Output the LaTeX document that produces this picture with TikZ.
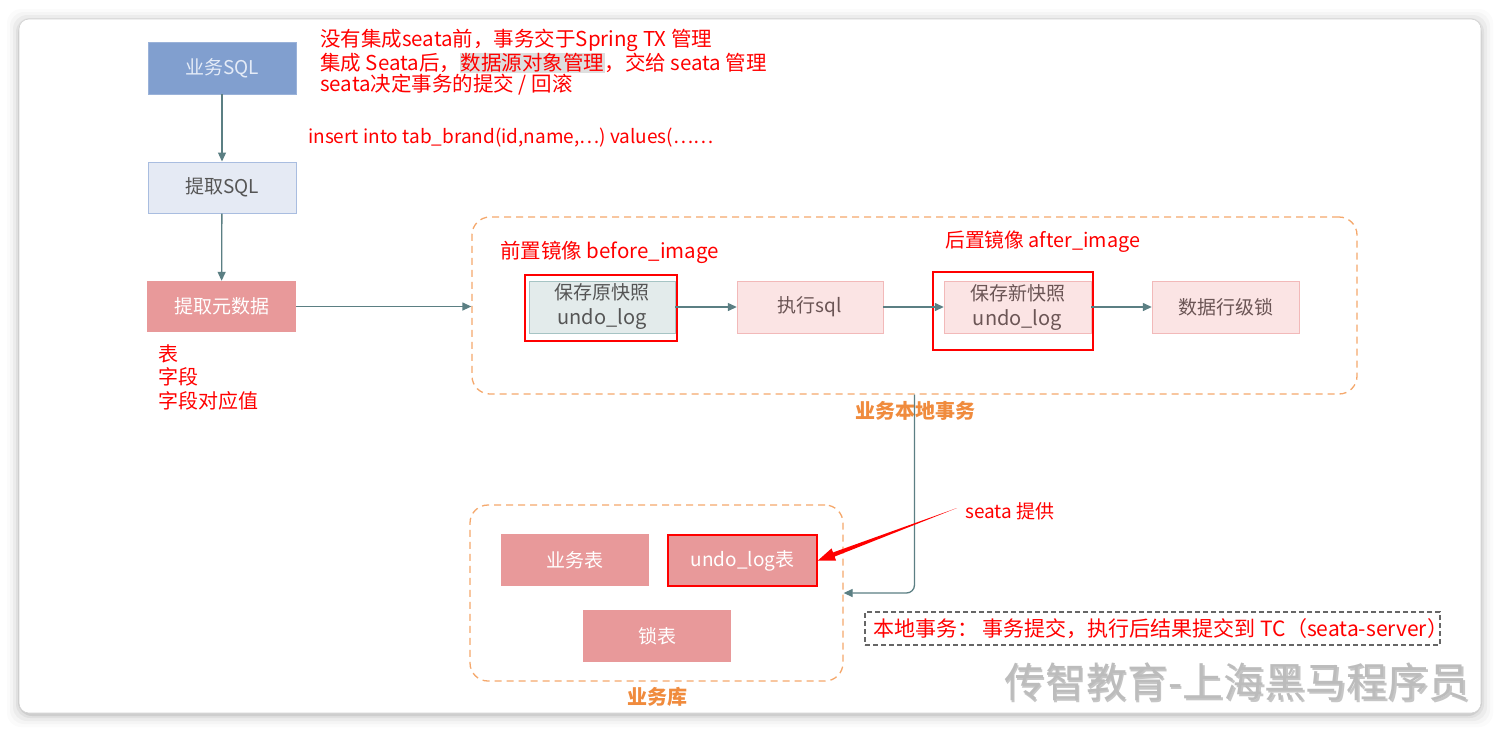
\documentclass[tikz,border=0pt]{standalone}
\usepackage{fontspec}
\setmainfont{Noto Sans CJK SC}
\usetikzlibrary{arrows.meta,calc}
\definecolor{blueb}{HTML}{819FCF}
\definecolor{bluetx}{HTML}{E4EBF7}
\definecolor{lightb}{HTML}{E5EAF4}
\definecolor{lightbd}{HTML}{A9BDE0}
\definecolor{darktx}{HTML}{555555}
\definecolor{pinkb}{HTML}{E8999A}
\definecolor{lpink}{HTML}{FBE4E4}
\definecolor{lpinkd}{HTML}{F2B9B9}
\definecolor{lpinktx}{HTML}{6B5555}
\definecolor{tealb}{HTML}{E3EBEB}
\definecolor{teald}{HTML}{A6C4C4}
\definecolor{conn}{HTML}{5B7F83}
\definecolor{orng}{HTML}{F5A86C}
\definecolor{orngtx}{HTML}{F08B3D}
\definecolor{hl}{HTML}{DEDEDE}
\definecolor{wm}{HTML}{ABABAB}
\newcommand\fsz[2]{\fontsize{#1}{#2}\selectfont}
\tikzset{
  box/.style={minimum width=148pt, minimum height=52pt, inner sep=0pt, align=center, font=\fsz{19}{25}},
  conn/.style={draw=conn, line width=1.3pt, -{Triangle[length=9pt,width=8pt]}},
  container/.style={draw=orng, dash pattern=on 7pt off 5pt, line width=1.3pt, rounded corners=18pt, inner sep=0pt},
  redtxt/.style={text=red, inner sep=0pt, align=left},
  redframe/.style={draw=red, line width=1.8pt, inner sep=0pt},
  grouplabel/.style={text=orngtx, font=\fsz{20}{24}\bfseries, inner sep=0pt}
}
\begin{document}
\begin{tikzpicture}[x=1pt,y=-1pt]
\useasboundingbox (0,0) rectangle (1500,732);
% card shadow
\foreach \i/\o in {12/0.015, 9/0.025, 6/0.035, 3/0.05, 1/0.08} {
  \fill[black,opacity=\o,rounded corners=14pt] (19-\i,19-\i+2) rectangle (1481+\i,713+\i+2);
}
\fill[white,rounded corners=10pt] (19,19) rectangle (1481,713);
\draw[gray!35,line width=0.6pt,rounded corners=10pt] (19,19) rectangle (1481,713);

% left column
\node[box, fill=blueb, text=bluetx, draw=blueb!80!white] (sql) at (222,68) {业务SQL};
\node[box, fill=lightb, draw=lightbd, text=darktx, line width=1pt, minimum height=51pt] (getsql) at (222,187.5) {提取SQL};
\node[box, fill=pinkb, text=white, minimum width=149pt, minimum height=51pt] (meta) at (221.5,306.5) {提取元数据};

\node[redtxt, anchor=west, font=\fsz{20.5}{21}] (note1) at (320,62) {没有集成seata前，事务交于Spring TX 管理\\集成 Seata后，{\setlength{\fboxsep}{0.5pt}\colorbox{hl}{数据源对象管理}}，交给 seata 管理\\seata决定事务的提交 / 回滚};
\node[redtxt, anchor=west, font=\fsz{19}{22}] (note2) at (308,138) {insert into tab\_brand(id,name,…) values(……};
\node[redtxt, anchor=north west, font=\fsz{20}{23.5}] (note3) at (158,344) {表\\字段\\字段对应值};

\draw[conn] (sql) -- (getsql);
\draw[conn] (getsql) -- (meta);

% local transaction container
\node[container, minimum width=885pt, minimum height=177pt] (c1) at (914.5,305.5) {};
\node[grouplabel] (c1l) at (915,411) {业务本地事务};

\node[box, fill=tealb, draw=teald, text=darktx, minimum width=146pt] (snap1) at (602,307) {保存原快照\\{\fsz{20}{25}undo\_log}};
\node[redframe, minimum width=152pt, minimum height=66pt] (rf1) at (601,308) {};
\node[box, fill=lpink, draw=lpinkd, text=lpinktx, minimum width=146pt] (exec) at (810,307) {执行sql};
\node[box, fill=lpink, draw=lpinkd, text=lpinktx, minimum width=147pt] (snap2) at (1017.5,307) {保存新快照\\{\fsz{20}{25}undo\_log}};
\node[redframe, minimum width=160pt, minimum height=78pt] (rf2) at (1013,311) {};
\node[box, fill=lpink, draw=lpinkd, text=lpinktx, minimum width=147pt] (rowlock) at (1225.5,307) {数据行级锁};

\node[redtxt, anchor=west, font=\fsz{20.5}{22}] (before) at (500,252) {前置镜像 before\_image};
\node[redtxt, anchor=west, font=\fsz{19.8}{22}] (after) at (945,242) {后置镜像 after\_image};

\draw[conn] (meta.east) -- (c1.west |- meta.east);
\draw[conn] (snap1.east) -- (exec.west);
\draw[conn] (exec.east) -- (snap2.west);
\draw[conn] (snap2.east) -- (rowlock.west);

% business database container
\node[container, minimum width=373pt, minimum height=176pt] (c2) at (656.5,593) {};
\node[grouplabel] (c2l) at (657,697) {业务库};
\node[box, fill=pinkb, text=white] (biz) at (575,560) {业务表};
\node[box, fill=pinkb, text=white, draw=red, line width=1.8pt, minimum width=149pt, minimum height=51pt] (undo) at (742.5,560.5) {undo\_log表};
\node[box, fill=pinkb, text=white] (locktbl) at (657,636) {锁表};

\draw[conn, rounded corners=8pt] (c1.south) |- (c2.east);

% seata provides
\node[redtxt, anchor=west, font=\fsz{19}{22}] (seata) at (965,511) {seata 提供};
\coordinate (rs) at ($(seata.west)+(-8,-3)$);
\coordinate (rb) at ($(undo.east)!17pt!(rs)$);
\fill[red] (rs) -- ($(rb)!2.2pt!90:(undo.east)$) -- ($(rb)!6.5pt!90:(undo.east)$) -- (undo.east) -- ($(rb)!6.5pt!-90:(undo.east)$) -- ($(rb)!2.2pt!-90:(undo.east)$) -- cycle;

% local transaction note
\node[draw=darktx!90, dash pattern=on 5pt off 3pt, line width=1.6pt, minimum width=575pt, minimum height=33pt, inner sep=0pt] (tcbox) at (1152.5,628.5) {};
\node[redtxt, anchor=west, font=\fsz{21}{24}] (tcnote) at (873,628.5) {本地事务： 事务提交，执行后结果提交到 TC（seata-server）};

% watermark
\node[text=gray!45, font=\fsz{41}{46}, inner sep=0pt] (wms) at (1238.5,683.5) {传智教育-上海黑马程序员};
\node[text=wm!80!white, font=\fsz{41}{46}, inner sep=0pt] (wmk) at (1237,682) {传智教育-上海黑马程序员};
\end{tikzpicture}
\end{document}
